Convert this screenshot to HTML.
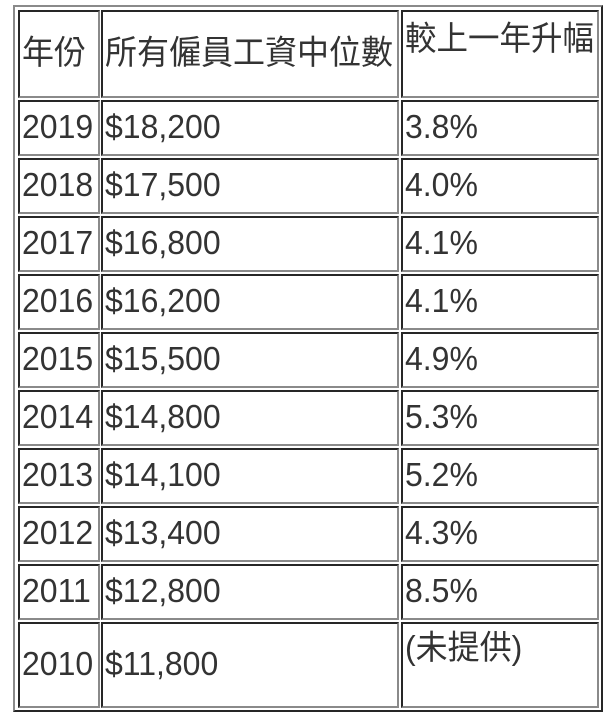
<!DOCTYPE html>
<html>
<head>
<meta charset="utf-8">
<style>
  html,body{margin:0;padding:0;}
  body{width:612px;height:722px;background:#fff;position:relative;overflow:hidden;
       font-family:"Liberation Sans","Noto Sans CJK TC","Noto Sans CJK SC",sans-serif;color:#333;}
  .tbl{position:absolute;left:13px;top:5px;width:590px;height:707px;box-sizing:border-box;
       border:2px solid;border-color:#8a8a8a #262626 #262626 #8a8a8a;}
  .c{position:absolute;box-sizing:border-box;border:2px solid;
     border-color:#262626 #8a8a8a #8a8a8a #262626;padding-left:2px;
     font-size:33.5px;white-space:nowrap;overflow:visible;}
  .c1{left:18px;width:82px;}
  .c2{left:101px;width:298px;}
  .c3{left:401px;width:198px;}
  .t{display:inline-block;transform:scaleX(0.955);transform-origin:0 50%;}
  .r{height:56px;line-height:52px;}
</style>
</head>
<body>
<div class="tbl"></div>

<!-- header -->
<div class="c c1" style="top:10px;height:88px;line-height:84px;"><span class="t">年份</span></div>
<div class="c c2" style="top:10px;height:88px;line-height:84px;"><span class="t">所有僱員工資中位數</span></div>
<div class="c c3" style="top:10px;height:88px;"><div style="margin-top:9px;line-height:38px;"><span class="t" style="transform:scaleX(0.94);">較上一年升幅</span></div></div>

<!-- 2019 -->
<div class="c c1 r" style="top:100px;"><span class="t">2019</span></div>
<div class="c c2 r" style="top:100px;"><span class="t">$18,200</span></div>
<div class="c c3 r" style="top:100px;"><span class="t">3.8%</span></div>
<!-- 2018 -->
<div class="c c1 r" style="top:158px;"><span class="t">2018</span></div>
<div class="c c2 r" style="top:158px;"><span class="t">$17,500</span></div>
<div class="c c3 r" style="top:158px;"><span class="t">4.0%</span></div>
<!-- 2017 -->
<div class="c c1 r" style="top:216px;"><span class="t">2017</span></div>
<div class="c c2 r" style="top:216px;"><span class="t">$16,800</span></div>
<div class="c c3 r" style="top:216px;"><span class="t">4.1%</span></div>
<!-- 2016 -->
<div class="c c1 r" style="top:274px;"><span class="t">2016</span></div>
<div class="c c2 r" style="top:274px;"><span class="t">$16,200</span></div>
<div class="c c3 r" style="top:274px;"><span class="t">4.1%</span></div>
<!-- 2015 -->
<div class="c c1 r" style="top:332px;"><span class="t">2015</span></div>
<div class="c c2 r" style="top:332px;"><span class="t">$15,500</span></div>
<div class="c c3 r" style="top:332px;"><span class="t">4.9%</span></div>
<!-- 2014 -->
<div class="c c1 r" style="top:390px;"><span class="t">2014</span></div>
<div class="c c2 r" style="top:390px;"><span class="t">$14,800</span></div>
<div class="c c3 r" style="top:390px;"><span class="t">5.3%</span></div>
<!-- 2013 -->
<div class="c c1 r" style="top:448px;"><span class="t">2013</span></div>
<div class="c c2 r" style="top:448px;"><span class="t">$14,100</span></div>
<div class="c c3 r" style="top:448px;"><span class="t">5.2%</span></div>
<!-- 2012 -->
<div class="c c1 r" style="top:506px;"><span class="t">2012</span></div>
<div class="c c2 r" style="top:506px;"><span class="t">$13,400</span></div>
<div class="c c3 r" style="top:506px;"><span class="t">4.3%</span></div>
<!-- 2011 -->
<div class="c c1 r" style="top:564px;"><span class="t">2011</span></div>
<div class="c c2 r" style="top:564px;"><span class="t">$12,800</span></div>
<div class="c c3 r" style="top:564px;"><span class="t">8.5%</span></div>
<!-- 2010 -->
<div class="c c1" style="top:622px;height:86px;line-height:82px;"><span class="t">2010</span></div>
<div class="c c2" style="top:622px;height:86px;line-height:82px;"><span class="t">$11,800</span></div>
<div class="c c3" style="top:622px;height:86px;"><div style="margin-top:6px;line-height:38px;"><span class="t">(未提供)</span></div></div>
</body>
</html>
